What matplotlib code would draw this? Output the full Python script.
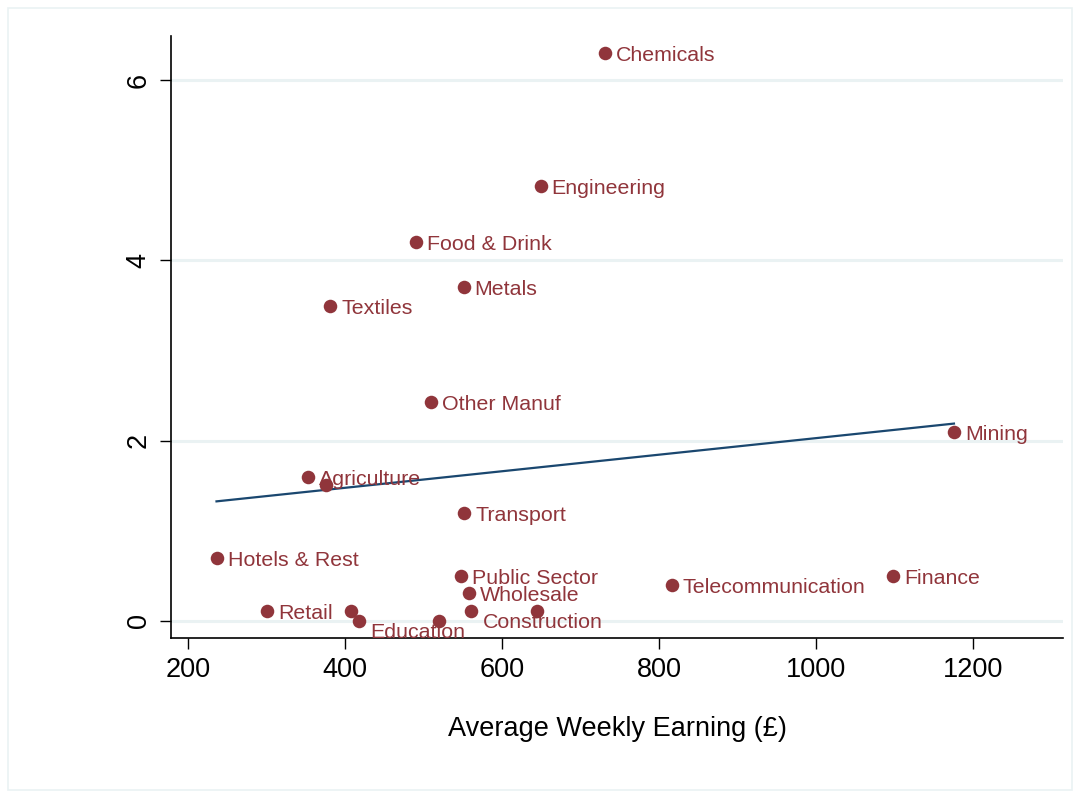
import numpy as np
import matplotlib
matplotlib.use("Agg")
from matplotlib import pyplot as plt
from matplotlib.patches import Rectangle

# industries: average weekly earning (GBP) vs y value
industries = ["Chemicals", "Engineering", "Food & Drink", "Metals", "Textiles",
              "Other Manuf", "Mining", "Agriculture", "", "Transport",
              "Hotels & Rest", "Public Sector", "Wholesale", "Telecommunication",
              "Finance", "Retail", "", "Education", "", "Construction", ""]
earnings = [731, 649, 490, 551, 381, 509, 1176, 353, 375, 552,
            236, 548, 558, 816, 1098, 300, 407, 418, 519, 561, 645]
values = [6.30, 4.82, 4.20, 3.70, 3.49, 2.43, 2.10, 1.60, 1.51, 1.20,
          0.70, 0.50, 0.31, 0.40, 0.50, 0.11, 0.11, 0.00, 0.00, 0.11, 0.11]

x_ticks = [200, 400, 600, 800, 1000, 1200]
y_ticks = [0, 2, 4, 6]

# labels that sit below-right of their marker
low_labels = {"Education", "Construction"}

MAROON = "#90353B"
NAVY = "#1A476F"
GRID = "#EAF2F3"


def main() -> None:
    plt.rcParams["font.family"] = ["Liberation Sans", "DejaVu Sans"]
    fig = plt.figure(figsize=(10.78, 7.96), dpi=100)
    fig.patches.append(Rectangle((8 / 1078, 6 / 796), 1064 / 1078, 782 / 796,
                                 transform=fig.transFigure, fill=False,
                                 edgecolor=GRID, linewidth=1.2))
    ax = fig.add_axes([171 / 1078, (796 - 638) / 796, (1063 - 171) / 1078, (638 - 36) / 796])

    ax.scatter(earnings, values, s=95, color=MAROON, zorder=3, linewidths=0)
    for name, x, y in zip(industries, earnings, values):
        if not name:
            continue
        dy = -8.5 if name in low_labels else -1.8
        ax.annotate(name, (x, y), xytext=(8, dy), textcoords="offset points",
                    va="center", ha="left", fontsize=15.4, color=MAROON, zorder=4)

    # linear fit across the observed range
    slope, intercept = np.polyfit(earnings, values, 1)
    xs = np.array([min(earnings), max(earnings)])
    ax.plot(xs, intercept + slope * xs, color=NAVY, linewidth=1.6, zorder=2)

    ax.set_xlim(178, 1315)
    ax.set_ylim(-0.19, 6.49)
    ax.set_xticks(x_ticks)
    ax.set_yticks(y_ticks)
    ax.tick_params(axis="both", length=8, width=1, labelsize=19.5, pad=6)
    for lab in ax.get_yticklabels():
        lab.set_rotation(90)
        lab.set_va("center")
    ax.yaxis.grid(True, color=GRID, linewidth=2.2)
    ax.set_axisbelow(True)
    for side in ("top", "right"):
        ax.spines[side].set_visible(False)
    for side in ("left", "bottom"):
        ax.spines[side].set_linewidth(1.2)
    ax.set_xlabel("Average Weekly Earning (£)", fontsize=19.5, labelpad=23.5)

    fig.savefig("out.png", dpi=100)


if __name__ == "__main__":
    main()
